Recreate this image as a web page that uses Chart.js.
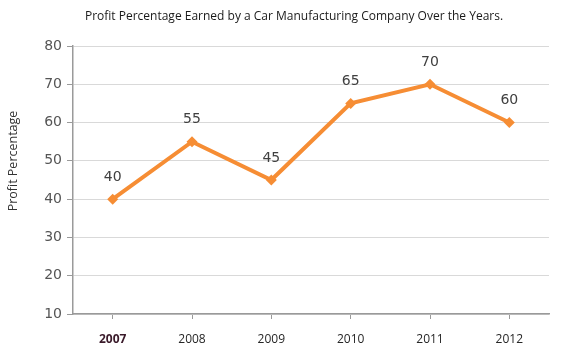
<!DOCTYPE html>
<html>
<head>
<meta charset="utf-8">
<script src="https://cdn.jsdelivr.net/npm/chart.js@4"></script>
<style>
  html, body { margin: 0; padding: 0; background: #ffffff; }
  #wrap { width: 562px; height: 358px; }
</style>
</head>
<body>
<div id="wrap"><canvas id="profitChart" width="562" height="358"></canvas></div>
<script>
// ---------- data ----------
const years = ["2007", "2008", "2009", "2010", "2011", "2012"];
const profitPercent = [40, 55, 45, 65, 70, 60];
const yTicks = [10, 20, 30, 40, 50, 60, 70, 80];

const chartTitle = "Profit Percentage Earned by a Car Manufacturing Company Over the Years.";
const yTitle = "Profit Percentage";

const lineColor = "#f68d34";

// ---------- titles + value labels ----------
const chartText = {
    id: "chartText",
    afterDatasetsDraw(chart) {
        const ctx = chart.ctx;
        const meta = chart.getDatasetMeta(0);
        ctx.save();

        // value labels above points
        ctx.font = "14px 'DejaVu Sans'";
        ctx.fillStyle = "#404040";
        ctx.textAlign = "center";
        ctx.textBaseline = "middle";
        meta.data.forEach((pt, i) => {
            ctx.fillText(String(profitPercent[i]), pt.x, pt.y - 22);
        });

        // main title
        ctx.font = "12px 'Open Sans'";
        ctx.fillStyle = "#1a1a1a";
        ctx.fillText(chartTitle, 294, 17);

        // y axis title
        ctx.translate(13, 161);
        ctx.rotate(-Math.PI / 2);
        ctx.font = "12.5px 'Open Sans'";
        ctx.fillStyle = "#333333";
        ctx.fillText(yTitle, 0, 0);

        ctx.restore();
    }
};

new Chart(document.getElementById("profitChart"), {
    type: "line",
    data: {
        labels: years,
        datasets: [{
            data: profitPercent,
            borderColor: lineColor,
            backgroundColor: lineColor,
            borderWidth: 4,
            tension: 0,
            pointStyle: "rectRot",
            pointRadius: 5.5,
            pointBorderWidth: 0,
            pointBackgroundColor: lineColor
        }]
    },
    options: {
        responsive: false,
        animation: false,
        layout: { padding: { left: 0, right: 13, top: 46, bottom: 0 } },
        plugins: {
            legend: { display: false },
            tooltip: { enabled: false },
            title: { display: false }
        },
        scales: {
            x: {
                offset: true,
                grid: {
                    offset: false,
                    drawOnChartArea: false,
                    drawTicks: true,
                    tickLength: 5,
                    color: "#9a9a9a"
                },
                border: { color: "#9a9a9a", width: 1.5 },
                ticks: {
                    padding: 13,
                    color: (c) => c.index === 0 ? "#3a1a2a" : "#262626",
                    font: (c) => ({
                        family: "'Open Sans'",
                        size: 12,
                        weight: c.index === 0 ? "bold" : "normal"
                    })
                },
                afterFit(scale) { scale.height = 44; }
            },
            y: {
                min: 10,
                max: 80,
                afterBuildTicks(scale) {
                    scale.ticks = yTicks.map(v => ({ value: v }));
                },
                grid: {
                    color: "#d9d9d9",
                    lineWidth: 1,
                    tickLength: 6,
                    tickColor: "#9a9a9a"
                },
                border: { color: "#9a9a9a", width: 1.5 },
                ticks: {
                    padding: 5,
                    color: "#555555",
                    font: { family: "'DejaVu Sans'", size: 14 }
                },
                afterFit(scale) { scale.width = 73; }
            }
        }
    },
    plugins: [chartText]
});
</script>
</body>
</html>
